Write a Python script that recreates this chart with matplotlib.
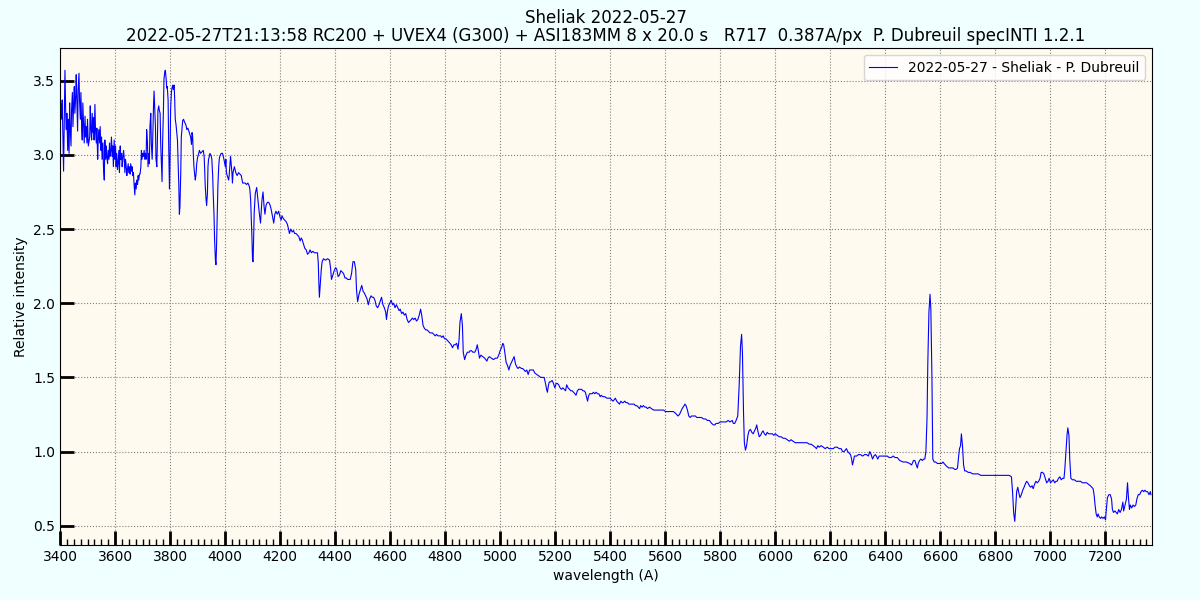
import matplotlib
matplotlib.use("Agg")
import matplotlib.pyplot as plt
from matplotlib.ticker import MultipleLocator

# (wavelength A, relative intensity), by spectral region
seg_uv = [
    (3402, 3.35), (3406, 3.24), (3408, 3.37), (3411, 3.10), (3413, 2.89), (3416, 3.33), (3418, 3.57),
    (3421, 3.26), (3423, 3.17), (3425, 3.28), (3428, 3.03), (3430, 3.24), (3433, 3.01), (3435, 3.35),
    (3437, 3.19), (3440, 3.06), (3442, 3.30), (3445, 3.42), (3447, 3.19), (3450, 3.37), (3452, 3.46),
    (3454, 3.28), (3457, 3.39), (3459, 3.54), (3462, 3.30), (3464, 3.16), (3466, 3.44), (3469, 3.55),
    (3471, 3.37), (3474, 3.24), (3476, 3.42), (3479, 3.17), (3481, 3.10), (3483, 3.35), (3486, 3.19),
    (3488, 3.08), (3491, 3.26), (3493, 3.12), (3495, 3.19), (3498, 3.08), (3500, 3.24), (3503, 3.06),
    (3508, 3.12), (3510, 3.33), (3512, 3.19), (3515, 3.10), (3517, 3.28), (3520, 3.15), (3522, 3.25),
    (3524, 3.10), (3527, 3.34), (3529, 3.17), (3532, 3.08), (3534, 3.18), (3537, 2.97), (3539, 3.10),
    (3541, 3.17), (3544, 3.08), (3546, 3.19), (3549, 3.03), (3551, 3.12), (3553, 2.97), (3556, 3.08),
    (3558, 2.92), (3561, 2.83), (3563, 3.10), (3566, 2.97), (3568, 3.06), (3570, 2.99), (3573, 2.94),
    (3575, 3.03), (3578, 2.97), (3580, 3.08), (3582, 2.99), (3585, 3.03), (3587, 3.12), (3590, 2.99),
    (3592, 3.06), (3594, 2.92), (3597, 3.10), (3599, 2.97), (3602, 3.06), (3604, 2.92), (3606, 3.01),
    (3609, 2.90), (3611, 2.94), (3614, 3.03), (3616, 2.88), (3619, 3.06), (3621, 2.97), (3624, 3.01),
    (3626, 2.92), (3628, 2.97), (3631, 3.03), (3633, 2.99), (3636, 2.88), (3638, 2.97), (3640, 2.94),
    (3643, 2.86), (3645, 2.90), (3648, 2.94), (3650, 2.88), (3653, 2.92), (3655, 2.87), (3657, 2.94),
    (3660, 2.89), (3662, 2.92), (3665, 2.86), (3667, 2.88), (3669, 2.81), (3672, 2.73), (3674, 2.81),
    (3677, 2.77), (3679, 2.83), (3682, 2.80), (3684, 2.86), (3686, 2.83), (3689, 2.87), (3691, 2.87),
    (3694, 2.92), (3696, 3.03), (3698, 2.97), (3701, 3.01), (3703, 2.99), (3706, 3.03), (3708, 2.97),
    (3711, 3.01), (3713, 2.97), (3715, 3.17), (3718, 3.08), (3720, 2.92), (3723, 3.01), (3725, 2.94),
    (3727, 3.19), (3730, 3.28), (3732, 3.08), (3735, 2.97), (3737, 3.10), (3740, 3.33), (3742, 3.43),
    (3744, 3.33), (3747, 3.19), (3749, 2.97), (3752, 2.92), (3754, 3.08), (3756, 3.30), (3759, 3.33),
    (3761, 3.30), (3764, 3.28), (3766, 3.08), (3769, 2.92), (3771, 2.82), (3773, 3.08), (3776, 3.30),
    (3778, 3.51), (3781, 3.56), (3783, 3.57), (3786, 3.51), (3788, 3.45), (3790, 3.46), (3793, 3.37),
    (3795, 3.08), (3798, 2.77), (3800, 2.97), (3802, 3.30), (3805, 3.42), (3807, 3.45), (3810, 3.47),
    (3812, 3.44), (3815, 3.47), (3817, 3.37), (3819, 3.24), (3822, 3.20), (3824, 3.16), (3827, 3.10),
    (3829, 2.97), (3832, 2.79), (3834, 2.60), (3836, 2.65), (3839, 2.88), (3841, 3.12), (3844, 3.19),
    (3846, 3.23), (3849, 3.24), (3853, 3.22), (3858, 3.20), (3861, 3.17), (3865, 3.18), (3870, 3.15),
    (3875, 3.12), (3878, 3.07), (3880, 3.15), (3882, 3.13), (3885, 2.99), (3887, 2.92), (3890, 2.86),
    (3892, 2.83), (3895, 2.88), (3897, 2.94), (3900, 2.98), (3904, 3.01), (3907, 3.03), (3911, 3.01),
    (3916, 3.02), (3921, 3.03), (3924, 2.99), (3926, 2.90), (3928, 2.79), (3931, 2.70), (3933, 2.66),
    (3936, 2.74), (3938, 2.92), (3940, 2.97), (3943, 2.99), (3945, 3.01), (3948, 3.00), (3950, 2.99),
    (3952, 2.97), (3955, 2.86), (3957, 2.74), (3960, 2.59), (3962, 2.43), (3965, 2.29), (3967, 2.26),
    (3969, 2.38), (3972, 2.61), (3974, 2.79), (3977, 2.92), (3979, 2.97), (3981, 2.99), (3986, 3.01),
    (3991, 3.01), (3996, 2.97), (4001, 2.92), (4003, 2.97), (4005, 2.88), (4008, 2.86), (4013, 2.83),
    (4015, 2.86), (4020, 2.99), (4025, 2.88), (4027, 2.81), (4029, 2.88), (4034, 2.92), (4039, 2.88),
    (4044, 2.86), (4049, 2.88), (4054, 2.87), (4059, 2.86), (4064, 2.81), (4069, 2.81), (4073, 2.81),
    (4078, 2.80), (4083, 2.81), (4088, 2.79), (4090, 2.77), (4093, 2.70), (4095, 2.59), (4098, 2.43),
    (4100, 2.29), (4102, 2.28),
]

seg_blue = [
    (4106, 2.61), (4110, 2.74), (4115, 2.78), (4120, 2.69), (4125, 2.60), (4129, 2.54), (4134, 2.69),
    (4138, 2.75), (4142, 2.65), (4145, 2.60), (4149, 2.66), (4154, 2.68), (4159, 2.68), (4164, 2.66),
    (4168, 2.63), (4173, 2.58), (4177, 2.54), (4181, 2.60), (4185, 2.62), (4190, 2.60), (4195, 2.62),
    (4200, 2.58), (4204, 2.56), (4207, 2.59), (4212, 2.57), (4217, 2.56), (4222, 2.55), (4227, 2.53),
    (4232, 2.49), (4234, 2.47), (4239, 2.50), (4244, 2.48), (4249, 2.49), (4253, 2.47), (4258, 2.47),
    (4263, 2.46), (4268, 2.45), (4273, 2.42), (4277, 2.44), (4280, 2.43), (4285, 2.40), (4290, 2.37),
    (4295, 2.36), (4300, 2.33), (4305, 2.34), (4309, 2.36), (4314, 2.34), (4319, 2.35), (4325, 2.34),
    (4331, 2.34), (4336, 2.34), (4339, 2.27), (4341, 2.14), (4343, 2.04), (4346, 2.12), (4350, 2.23),
    (4353, 2.28), (4358, 2.30), (4365, 2.29), (4373, 2.30), (4380, 2.29), (4384, 2.23), (4387, 2.16),
    (4392, 2.19), (4397, 2.22), (4402, 2.24), (4406, 2.23), (4411, 2.18), (4416, 2.19), (4421, 2.22),
    (4426, 2.21), (4431, 2.20), (4436, 2.17), (4441, 2.17), (4446, 2.16), (4450, 2.16), (4455, 2.16),
    (4460, 2.20), (4465, 2.28), (4470, 2.28), (4475, 2.23), (4478, 2.09), (4482, 2.01), (4487, 2.06),
    (4492, 2.09), (4497, 2.12), (4502, 2.08), (4506, 2.07), (4511, 2.05), (4516, 2.03), (4521, 1.99),
    (4526, 2.03), (4531, 2.05), (4535, 2.04), (4540, 2.04), (4545, 2.02), (4550, 1.98), (4555, 1.97),
    (4560, 1.99), (4565, 2.02), (4569, 2.04), (4574, 1.99), (4579, 1.97), (4584, 1.94), (4587, 1.89),
    (4590, 1.94), (4594, 1.98), (4599, 2.00), (4604, 2.02), (4609, 1.99), (4613, 2.00), (4618, 1.97),
    (4623, 1.99), (4628, 1.97), (4633, 1.95), (4637, 1.96), (4642, 1.93), (4647, 1.94), (4652, 1.92),
    (4657, 1.93), (4662, 1.89), (4667, 1.87), (4672, 1.88), (4677, 1.89), (4681, 1.90), (4686, 1.89),
    (4691, 1.90), (4696, 1.88), (4701, 1.89), (4706, 1.92), (4711, 1.96), (4715, 1.92), (4720, 1.85),
    (4725, 1.83), (4730, 1.82), (4735, 1.82), (4740, 1.81), (4745, 1.80), (4750, 1.80), (4754, 1.80),
    (4759, 1.79), (4764, 1.78), (4769, 1.79), (4774, 1.78), (4779, 1.78), (4784, 1.78), (4788, 1.77),
    (4793, 1.78), (4798, 1.76), (4803, 1.76), (4808, 1.75), (4813, 1.74), (4818, 1.73), (4822, 1.72),
    (4827, 1.70), (4832, 1.72), (4837, 1.72), (4842, 1.73), (4847, 1.69), (4851, 1.76), (4854, 1.87),
    (4859, 1.93), (4863, 1.85), (4866, 1.67), (4871, 1.62), (4876, 1.65), (4881, 1.67), (4888, 1.67),
]

seg_green = [
    (4891, 1.68), (4896, 1.68), (4901, 1.67), (4908, 1.67), (4913, 1.69), (4917, 1.72), (4920, 1.69),
    (4925, 1.63), (4930, 1.65), (4937, 1.64), (4944, 1.63), (4952, 1.61), (4956, 1.63), (4961, 1.64),
    (4968, 1.63), (4976, 1.62), (4983, 1.63), (4990, 1.63), (4995, 1.65), (5000, 1.68), (5005, 1.70),
    (5010, 1.73), (5013, 1.72), (5017, 1.67), (5022, 1.60), (5027, 1.58), (5032, 1.55), (5036, 1.58),
    (5041, 1.60), (5046, 1.62), (5051, 1.64), (5056, 1.59), (5061, 1.57), (5065, 1.56), (5070, 1.57),
    (5078, 1.56), (5082, 1.56), (5087, 1.55), (5092, 1.54), (5097, 1.55), (5102, 1.52), (5107, 1.55),
    (5114, 1.55), (5121, 1.55), (5126, 1.53), (5133, 1.52), (5141, 1.51), (5148, 1.50), (5155, 1.50),
    (5160, 1.50), (5165, 1.46), (5169, 1.42), (5172, 1.40), (5176, 1.45), (5179, 1.47), (5184, 1.47),
    (5189, 1.48), (5194, 1.46), (5199, 1.43), (5204, 1.46), (5208, 1.46), (5213, 1.45), (5218, 1.43),
    (5223, 1.42), (5228, 1.43), (5233, 1.42), (5238, 1.41), (5242, 1.45), (5247, 1.43), (5252, 1.42),
    (5257, 1.41), (5262, 1.41), (5267, 1.40), (5272, 1.39), (5276, 1.38), (5281, 1.41), (5286, 1.42),
    (5291, 1.42), (5296, 1.42), (5301, 1.41), (5305, 1.41), (5310, 1.40), (5314, 1.37), (5318, 1.34),
    (5321, 1.37), (5325, 1.39), (5330, 1.39), (5335, 1.39), (5339, 1.40), (5344, 1.39), (5349, 1.40),
    (5354, 1.39), (5359, 1.39), (5364, 1.37), (5368, 1.38), (5373, 1.37), (5381, 1.37), (5388, 1.36),
    (5395, 1.36), (5400, 1.36), (5405, 1.35), (5410, 1.34), (5415, 1.35), (5419, 1.36), (5424, 1.34),
    (5429, 1.33), (5434, 1.32), (5439, 1.34), (5444, 1.33), (5448, 1.33), (5453, 1.34), (5458, 1.33),
    (5463, 1.33), (5468, 1.32), (5473, 1.32), (5478, 1.32), (5482, 1.32), (5487, 1.32), (5492, 1.31),
    (5497, 1.31), (5502, 1.30), (5507, 1.29), (5511, 1.31), (5516, 1.30), (5521, 1.31), (5526, 1.30),
    (5531, 1.30), (5536, 1.29), (5543, 1.30), (5550, 1.29), (5558, 1.28), (5565, 1.28), (5572, 1.28),
    (5579, 1.28), (5587, 1.28), (5594, 1.28), (5601, 1.27), (5608, 1.27), (5616, 1.27), (5623, 1.27),
    (5630, 1.27), (5637, 1.26), (5642, 1.25), (5647, 1.24), (5652, 1.25), (5657, 1.27), (5662, 1.29),
    (5669, 1.31), (5672, 1.32), (5676, 1.31), (5681, 1.28), (5686, 1.24), (5691, 1.23), (5696, 1.24),
    (5701, 1.24), (5705, 1.24), (5710, 1.24), (5715, 1.23), (5720, 1.23), (5725, 1.23), (5732, 1.23),
    (5740, 1.22), (5747, 1.22), (5754, 1.21), (5761, 1.21), (5769, 1.19), (5776, 1.18), (5781, 1.18),
    (5785, 1.19), (5793, 1.19), (5800, 1.20), (5807, 1.20), (5815, 1.20), (5822, 1.20), (5829, 1.21),
    (5836, 1.20), (5844, 1.21), (5848, 1.19), (5853, 1.19), (5858, 1.21), (5864, 1.24),
]

seg_red = [
    (5869, 1.44), (5874, 1.71), (5878, 1.79), (5881, 1.67), (5885, 1.26), (5888, 1.06), (5892, 1.01),
    (5896, 1.04), (5901, 1.11), (5905, 1.14), (5910, 1.15), (5915, 1.13), (5920, 1.12), (5925, 1.14),
    (5930, 1.16), (5933, 1.18), (5937, 1.14), (5942, 1.10), (5947, 1.11), (5952, 1.13), (5956, 1.14),
    (5961, 1.12), (5966, 1.11), (5971, 1.13), (5976, 1.12), (5981, 1.12), (5985, 1.12), (5990, 1.12),
    (5995, 1.11), (6000, 1.12), (6007, 1.11), (6015, 1.10), (6022, 1.10), (6029, 1.09), (6036, 1.09),
    (6044, 1.08), (6051, 1.07), (6058, 1.08), (6065, 1.07), (6073, 1.06), (6080, 1.06), (6087, 1.06),
    (6095, 1.06), (6102, 1.06), (6109, 1.06), (6116, 1.06), (6124, 1.05), (6131, 1.05), (6138, 1.04),
    (6145, 1.03), (6150, 1.02), (6155, 1.04), (6160, 1.03), (6167, 1.04), (6175, 1.03), (6182, 1.02),
    (6189, 1.03), (6196, 1.02), (6204, 1.02), (6211, 1.02), (6218, 1.03), (6225, 1.03), (6233, 1.02),
    (6240, 1.02), (6245, 1.00), (6250, 1.00), (6255, 1.01), (6259, 1.02), (6264, 1.00), (6269, 0.99),
    (6274, 0.98), (6278, 0.95), (6281, 0.91), (6285, 0.94), (6288, 0.97), (6296, 0.97), (6303, 0.98),
    (6310, 0.98), (6318, 0.97), (6325, 0.98), (6332, 0.98), (6339, 0.97), (6344, 1.00), (6349, 0.98),
    (6354, 0.95), (6359, 0.97), (6364, 0.98), (6368, 0.97), (6373, 0.95), (6378, 0.97), (6385, 0.97),
    (6393, 0.97), (6400, 0.97), (6407, 0.97), (6415, 0.96), (6422, 0.96), (6429, 0.97), (6436, 0.96),
    (6444, 0.96),
]

seg_nir = [
    (6453, 0.94), (6465, 0.93), (6477, 0.93), (6489, 0.92), (6496, 0.91), (6503, 0.94), (6508, 0.94),
    (6513, 0.91), (6517, 0.89), (6520, 0.92), (6525, 0.94), (6530, 0.95), (6535, 0.94), (6540, 0.95),
    (6544, 0.95), (6548, 1.00), (6552, 1.22), (6555, 1.60), (6559, 1.94), (6563, 2.06), (6566, 1.96),
    (6570, 1.49), (6573, 0.95), (6578, 0.93), (6583, 0.93), (6590, 0.92), (6598, 0.92), (6605, 0.92),
    (6610, 0.93), (6614, 0.92), (6619, 0.91), (6624, 0.90), (6631, 0.89), (6639, 0.89), (6646, 0.89),
    (6653, 0.88), (6658, 0.88), (6663, 0.89), (6666, 0.95), (6670, 1.02), (6674, 1.04), (6677, 1.12),
    (6681, 1.04), (6685, 0.91), (6689, 0.87), (6694, 0.87), (6702, 0.86), (6709, 0.86), (6718, 0.85),
    (6728, 0.85), (6738, 0.85), (6747, 0.84), (6757, 0.84), (6767, 0.84), (6779, 0.84), (6791, 0.84),
    (6803, 0.84), (6815, 0.84), (6827, 0.84), (6839, 0.84), (6851, 0.84), (6859, 0.83), (6863, 0.73),
    (6867, 0.59), (6871, 0.53), (6874, 0.61), (6878, 0.73), (6882, 0.76), (6885, 0.73), (6890, 0.69),
    (6895, 0.71), (6900, 0.74), (6905, 0.76), (6909, 0.78), (6914, 0.80), (6919, 0.79), (6924, 0.77),
    (6929, 0.76), (6934, 0.77), (6938, 0.75), (6943, 0.78), (6948, 0.80), (6953, 0.79), (6958, 0.80),
    (6963, 0.82), (6967, 0.86), (6972, 0.86), (6977, 0.85), (6982, 0.82), (6987, 0.79), (6992, 0.80),
    (6996, 0.82), (7001, 0.79), (7006, 0.80), (7011, 0.81), (7016, 0.79), (7021, 0.80), (7025, 0.80),
    (7030, 0.82), (7035, 0.83), (7040, 0.81), (7045, 0.82), (7050, 0.82), (7053, 0.88), (7057, 1.00),
    (7061, 1.11), (7064, 1.16), (7068, 1.11), (7071, 0.95), (7075, 0.82), (7081, 0.81), (7088, 0.81),
    (7095, 0.80), (7103, 0.80), (7110, 0.80), (7117, 0.79), (7124, 0.79), (7132, 0.79), (7139, 0.78),
    (7146, 0.77), (7151, 0.76), (7156, 0.75), (7160, 0.70), (7163, 0.64), (7167, 0.58), (7171, 0.56),
    (7174, 0.58), (7178, 0.56), (7183, 0.55), (7187, 0.56), (7192, 0.55), (7197, 0.56), (7201, 0.54),
    (7204, 0.61), (7208, 0.69), (7213, 0.71), (7218, 0.71), (7223, 0.68), (7226, 0.61), (7230, 0.59),
    (7235, 0.60), (7240, 0.59), (7244, 0.58), (7249, 0.61), (7254, 0.59), (7259, 0.61), (7264, 0.66),
    (7267, 0.60), (7272, 0.64), (7277, 0.68), (7281, 0.79), (7284, 0.70), (7288, 0.61), (7291, 0.64),
    (7296, 0.62), (7301, 0.64), (7306, 0.63), (7311, 0.64), (7315, 0.68), (7320, 0.71), (7325, 0.71),
    (7330, 0.73), (7335, 0.74), (7340, 0.73), (7344, 0.74), (7349, 0.73), (7354, 0.73), (7359, 0.71),
    (7364, 0.73), (7366, 0.71),
]

spectrum = seg_uv + seg_blue + seg_green + seg_red + seg_nir
wave = [p[0] for p in spectrum]
flux = [p[1] for p in spectrum]

title = ("Sheliak 2022-05-27\n"
         "2022-05-27T21:13:58 RC200 + UVEX4 (G300) + ASI183MM 8 x 20.0 s   "
         "R717  0.387A/px  P. Dubreuil specINTI 1.2.1")

fig = plt.figure(figsize=(12, 6), dpi=100, facecolor="azure")
ax = fig.add_axes([0.05, 0.092, 0.91, 0.828])
ax.set_facecolor("floralwhite")

ax.plot(wave, flux, color="blue", lw=0.8, label="2022-05-27 - Sheliak - P. Dubreuil")

ax.set_xlim(3400, 7370)
ax.set_ylim(0.372, 3.72)
ax.xaxis.set_major_locator(MultipleLocator(200))
ax.xaxis.set_minor_locator(MultipleLocator(25))
ax.yaxis.set_major_locator(MultipleLocator(0.5))
ax.tick_params(axis="x", which="major", direction="in", length=10, width=2, labelsize=10)
ax.tick_params(axis="x", which="minor", direction="in", length=4.5, width=1)
ax.tick_params(axis="y", which="major", direction="in", length=10, width=2, labelsize=10)

ax.grid(True, which="major", linestyle=":", color="gray", lw=0.8)
ax.set_xlabel("wavelength (A)")
ax.set_ylabel("Relative intensity")
ax.set_title(title, fontsize=12, pad=5, linespacing=1.0)
ax.legend(loc="upper right", fontsize=10)

fig.savefig("out.png", dpi=100, facecolor=fig.get_facecolor())
